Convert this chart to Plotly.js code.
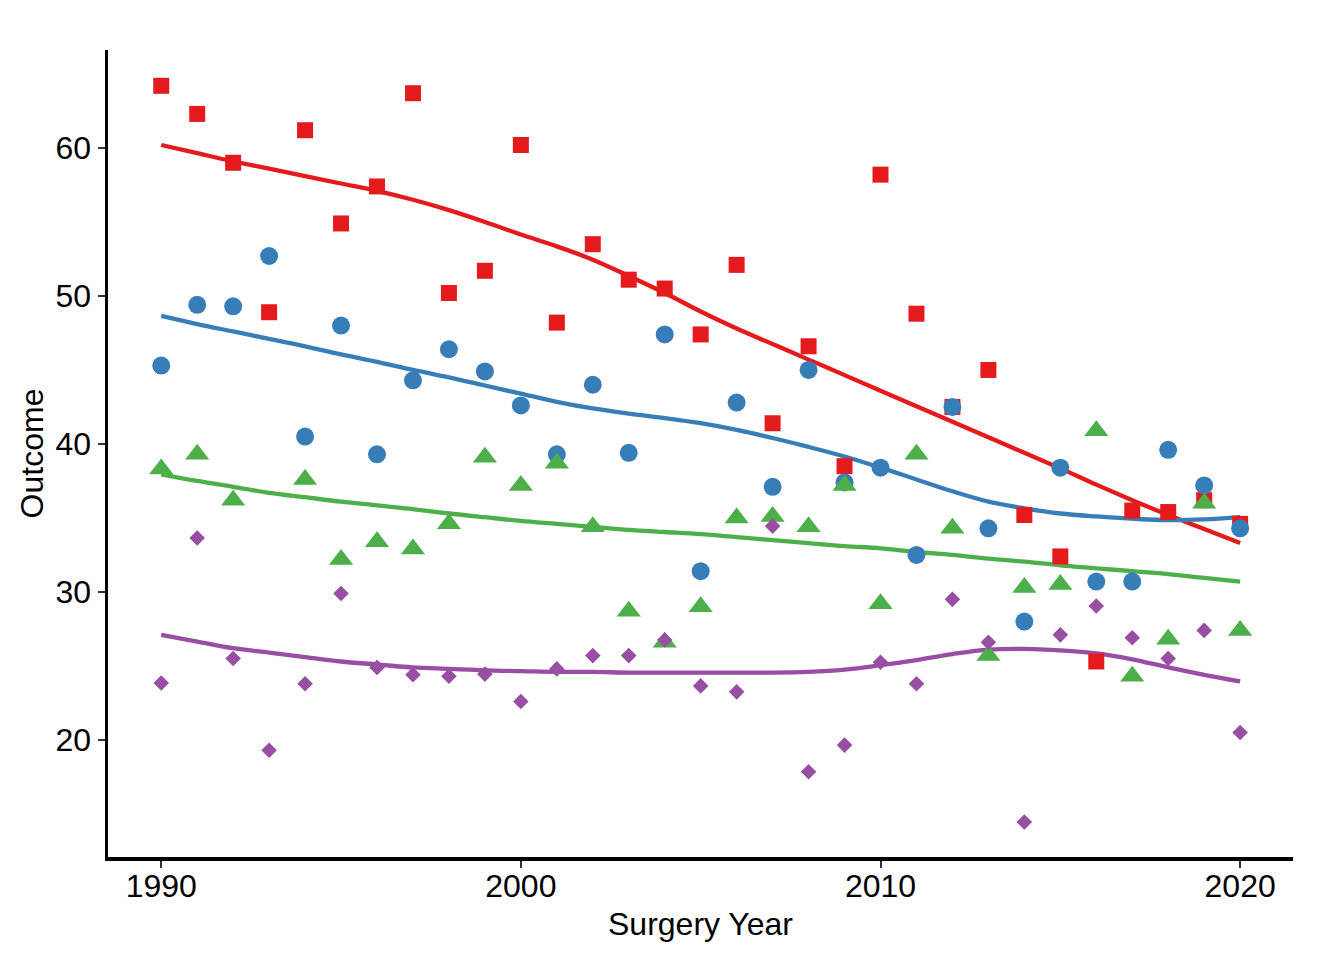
<!DOCTYPE html>
<html>
<head>
<meta charset="utf-8">
<script src="https://cdn.plot.ly/plotly-3.0.1.min.js"></script>
<style>html,body{margin:0;padding:0;background:#fff;}#chart{width:1344px;height:960px;}</style>
</head>
<body>
<div id="chart"></div>
<script>
// ---- data ----
var years = [1990,1991,1992,1993,1994,1995,1996,1997,1998,1999,2000,2001,2002,2003,2004,2005,2006,2007,2008,2009,2010,2011,2012,2013,2014,2015,2016,2017,2018,2019,2020];
var redValues = [64.2,62.3,59.0,48.9,61.2,54.9,57.4,63.7,50.2,51.7,60.2,48.2,53.5,51.1,50.5,47.4,52.1,41.4,46.6,38.5,58.2,48.8,42.5,45.0,35.2,32.4,25.3,35.5,35.4,36.2,34.6];
var blueValues = [45.3,49.4,49.3,52.7,40.5,48.0,39.3,44.3,46.4,44.9,42.6,39.3,44.0,39.4,47.4,31.4,42.8,37.1,45.0,37.4,38.4,32.5,42.5,34.3,28.0,38.4,30.7,30.7,39.6,37.2,34.3];
var greenValues = [38.3,39.3,36.2,null,37.6,32.2,33.4,32.9,34.6,39.1,37.2,38.7,34.4,28.7,26.6,29.0,35.0,35.1,34.4,37.2,29.2,39.3,34.3,25.7,30.3,30.5,40.9,24.3,26.8,36.0,27.4];
var purpleValues = [23.85,33.65,25.5,19.3,23.8,29.9,24.9,24.4,24.3,24.45,22.6,24.8,25.7,25.7,26.75,23.65,23.25,34.45,17.85,19.65,25.25,23.8,29.5,26.6,14.45,27.1,29.05,26.9,25.5,27.4,20.5];

// smoothed trend lines at each year
var redTrend = [60.2,59.65,59.1,58.6,58.1,57.6,57.1,56.5,55.8,55.0,54.15,53.35,52.45,51.35,50.2,48.95,47.8,46.75,45.7,44.65,43.6,42.55,41.5,40.45,39.4,38.35,37.25,36.2,35.2,34.25,33.3];
var blueTrend = [48.65,48.1,47.6,47.1,46.6,46.05,45.55,45.0,44.5,43.95,43.4,42.85,42.4,42.05,41.75,41.4,40.95,40.4,39.8,39.15,38.4,37.6,36.8,36.1,35.65,35.3,35.1,34.95,34.85,34.9,35.05];
var greenTrend = [37.95,37.5,37.1,36.7,36.4,36.1,35.85,35.6,35.3,35.05,34.8,34.6,34.4,34.2,34.05,33.9,33.7,33.5,33.3,33.1,32.95,32.7,32.5,32.25,32.05,31.8,31.6,31.4,31.2,30.95,30.7];
var purpleTrend = [27.1,26.65,26.2,25.9,25.6,25.3,25.1,24.9,24.8,24.7,24.65,24.6,24.6,24.55,24.55,24.55,24.55,24.55,24.6,24.75,25.05,25.4,25.8,26.1,26.15,26.05,25.85,25.45,24.9,24.4,23.95];

var xTicks = [1990,2000,2010,2020];
var yTicks = [20,30,40,50,60];

var colors = {red:'#E41A1C', blue:'#377EB8', green:'#4DAF4A', purple:'#984EA3'};

function clean(xs, ys) {
  var ox = [], oy = [];
  for (var i = 0; i < xs.length; i++) if (ys[i] !== null) { ox.push(xs[i]); oy.push(ys[i]); }
  return {x: ox, y: oy};
}

var series = [
  {name:'Red', values:redValues, trend:redTrend, color:colors.red, symbol:'square', size:16},
  {name:'Blue', values:blueValues, trend:blueTrend, color:colors.blue, symbol:'circle', size:18},
  {name:'Green', values:greenValues, trend:greenTrend, color:colors.green, symbol:'triangle-up', size:21},
  {name:'Purple', values:purpleValues, trend:purpleTrend, color:colors.purple, symbol:'diamond', size:12}
];

var lineTraces = [], pointTraces = [];
series.forEach(function (s) {
  var c = clean(years, s.values);
  lineTraces.push({x: years, y: s.trend, type:'scatter', mode:'lines', line:{color:s.color, width:4.3, shape:'spline', smoothing:1}, hoverinfo:'skip', showlegend:false});
  pointTraces.push({x: c.x, y: c.y, type:'scatter', mode:'markers', name:s.name, marker:{symbol:s.symbol, size:s.size, color:s.color, line:{width:0}}, showlegend:false});
});

var fontFam = '"Liberation Sans", Arial, Helvetica, sans-serif';
var layout = {
  width: 1344, height: 960,
  margin: {l:108, r:51, t:50, b:103, pad:0},
  paper_bgcolor:'#fff', plot_bgcolor:'#fff',
  showlegend:false,
  font:{family:fontFam, size:32, color:'#000'},
  xaxis: {
    range:[1988.52, 2021.47], tickvals:xTicks, ticktext:xTicks.map(String),
    showgrid:false, zeroline:false, showline:true, linecolor:'#000', linewidth:3.5,
    ticks:'outside', ticklen:7, tickwidth:2, tickcolor:'#333',
    ticklabelstandoff:-9,
    tickfont:{family:fontFam, size:32, color:'#000'},
    title:{text:'Surgery Year', font:{family:fontFam, size:32, color:'#000'}, standoff:10}
  },
  yaxis: {
    range:[12.09, 66.62], tickvals:yTicks, ticktext:yTicks.map(String),
    showgrid:false, zeroline:false, showline:true, linecolor:'#000', linewidth:3.5,
    ticks:'outside', ticklen:7, tickwidth:2, tickcolor:'#333',
    tickfont:{family:fontFam, size:32, color:'#000'},
    title:{text:'Outcome', font:{family:fontFam, size:32, color:'#000'}, standoff:3}
  }
};

Plotly.newPlot('chart', lineTraces.concat(pointTraces), layout, {displayModeBar:false, staticPlot:true});
</script>
</body>
</html>
